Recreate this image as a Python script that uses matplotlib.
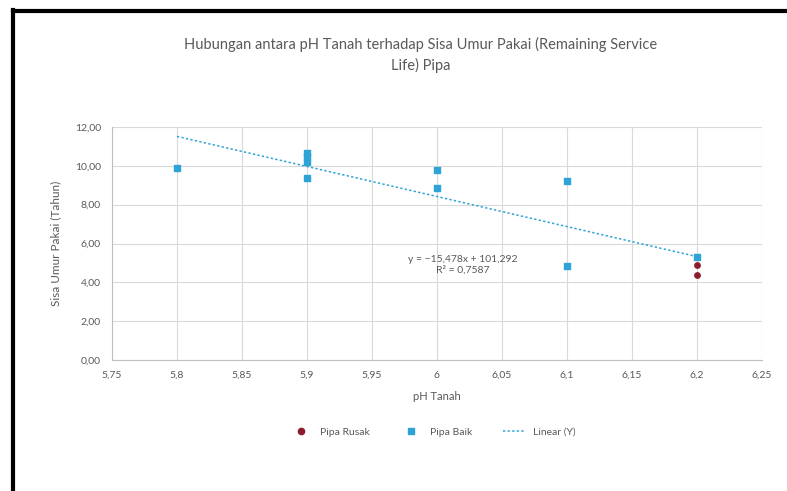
import numpy as np
import matplotlib
matplotlib.use("Agg")
from matplotlib import pyplot as plt
from matplotlib.lines import Line2D

plt.rcParams['font.family'] = ['Lato', 'DejaVu Sans']

# data
ph_rusak = [6.2, 6.2]
sisa_rusak = [4.9, 4.4]

ph_baik = [5.8, 5.9, 5.9, 5.9, 5.9, 6.0, 6.0, 6.1, 6.1, 6.2]
sisa_baik = [9.9, 10.67, 10.46, 10.2, 9.38, 9.79, 8.87, 9.23, 4.85, 5.31]

x_ticks = [5.75, 5.8, 5.85, 5.9, 5.95, 6.0, 6.05, 6.1, 6.15, 6.2, 6.25]
x_labels = ['5,75', '5,8', '5,85', '5,9', '5,95', '6', '6,05', '6,1', '6,15', '6,2', '6,25']
y_ticks = [0, 2, 4, 6, 8, 10, 12]
y_labels = ['0,00', '2,00', '4,00', '6,00', '8,00', '10,00', '12,00']

col_rusak = '#8c1c2c'
col_baik = '#2ea3d6'
grey = '#595959'

# linear trend over all points
x_all = np.array(ph_baik + ph_rusak)
y_all = np.array(sisa_baik + sisa_rusak)
m, c = np.polyfit(x_all, y_all, 1)
r2 = np.corrcoef(x_all, y_all)[0, 1] ** 2

fig = plt.figure(figsize=(7.87, 4.91), dpi=100)
ax = fig.add_axes([0.1423, 0.2668, 0.968 - 0.1423, 0.7413 - 0.2668])

ax.scatter(ph_rusak, sisa_rusak, s=15, color=col_rusak, marker='o', zorder=3, label='Pipa Rusak')
ax.scatter(ph_baik, sisa_baik, s=14, color=col_baik, marker='s', zorder=3, label='Pipa Baik')
xl = np.array([min(x_all), max(x_all)])
ax.plot(xl, m * xl + c, linestyle=(0, (1.5, 1.5)), color=col_baik, lw=1.1, zorder=2, label='Linear (Y)')

def fmt(v, d):
    return f'{v:.{d}f}'.replace('.', ',').replace('-', '\u2212')

eq = f'y = {fmt(m, 3)}x + {fmt(c, 3)}\nR\u00b2 = {fmt(r2, 4)}'
ax.text(6.02, 4.9, eq, fontsize=7.5, color=grey, ha='center', va='center', linespacing=1.3)

ax.set_xlim(5.75, 6.25)
ax.set_ylim(0, 12)
ax.set_xticks(x_ticks)
ax.set_xticklabels(x_labels)
ax.set_yticks(y_ticks)
ax.set_yticklabels(y_labels)
ax.tick_params(length=0, labelsize=7.5, labelcolor=grey, pad=8)
ax.grid(True, color='#d9d9d9', lw=0.8)
ax.set_axisbelow(True)
for s in ['top', 'right']:
    ax.spines[s].set_visible(False)
for s in ['left', 'bottom']:
    ax.spines[s].set_color('#bfbfbf')

ax.set_xlabel('pH Tanah', fontsize=8, color=grey, labelpad=8)
ax.set_ylabel('Sisa Umur Pakai (Tahun)', fontsize=8.5, color=grey, labelpad=10)

fig.text(0.535, 0.888, 'Hubungan antara pH Tanah terhadap Sisa Umur Pakai (Remaining Service\nLife) Pipa',
         ha='center', va='center', fontsize=10.5, color=grey, linespacing=1.5)

handles = [
    Line2D([], [], marker='o', color=col_rusak, ls='none', markersize=4.5),
    Line2D([], [], marker='s', color=col_baik, ls='none', markersize=4),
    Line2D([], [], color=col_baik, ls=(0, (1.5, 1.5)), lw=1.1),
]
fig.legend(handles, ['Pipa Rusak', 'Pipa Baik', 'Linear (Y)'], loc='center',
           bbox_to_anchor=(0.55, 0.12), ncol=3, frameon=False, fontsize=7.5,
           labelcolor=grey, columnspacing=3, handlelength=2)

# outer frame (left and top edges visible)
fig.add_artist(Line2D([0.0165, 0.0165], [0, 0.98], color='black', lw=3, transform=fig.transFigure))
fig.add_artist(Line2D([0.0165, 1], [0.978, 0.978], color='black', lw=3, transform=fig.transFigure))

fig.savefig('out.png', dpi=100)
